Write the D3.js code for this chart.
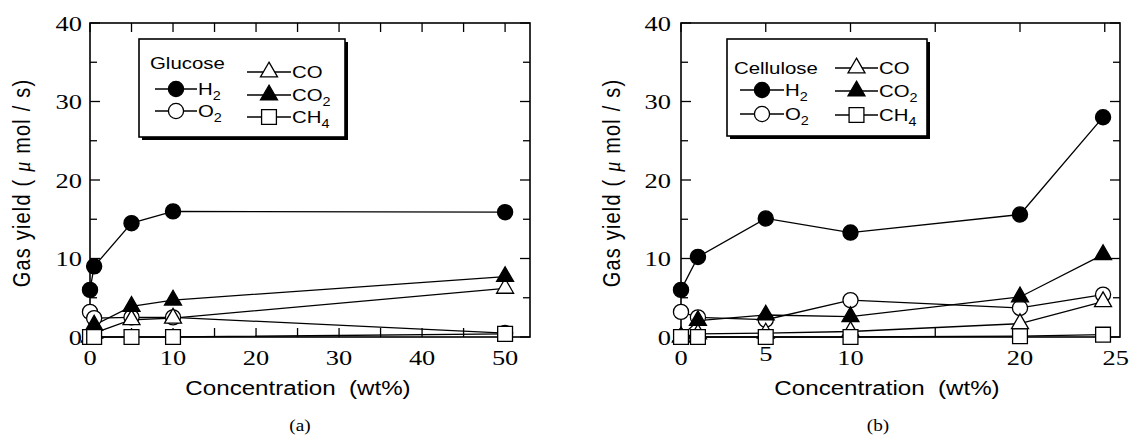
<!DOCTYPE html>
<html>
<head>
<meta charset="utf-8">
<script src="https://cdn.jsdelivr.net/npm/d3@7"></script>
<style>
body { margin: 0; background: #fff; }
svg { display: block; }
text { fill: #000; }
</style>
</head>
<body>
<div id="chart"></div>
<script>
// (a) glucose
const concA = [0, 0.5, 5, 10, 50]
const h2A  = [6.0, 9.0, 14.5, 16.0, 15.9]
const o2A  = [3.2, 2.4, 2.5, 2.5, 0.5]
const coA  = [0, 0.5, 2.2, 2.4, 6.2]
const co2A = [0, 1.5, 3.9, 4.7, 7.7]
const ch4A = [0, 0, 0, 0, 0.4]

// (b) cellulose
const concB = [0, 1, 5, 10, 20, 24.9]
const h2B  = [6.0, 10.2, 15.1, 13.3, 15.6, 28.0]
const o2B  = [3.2, 2.5, 2.2, 4.7, 3.7, 5.4]
const coB  = [0, 0.4, 0.5, 0.7, 1.7, 4.5]
const co2B = [0, 2.1, 2.8, 2.6, 5.1, 10.5]
const ch4B = [0, 0, 0, 0, 0.1, 0.3]

const yTicks = [0, 10, 20, 30, 40]
const xTicksA = [0, 10, 20, 30, 40, 50]
const xTicksB = [0, 5, 10, 20, 25]
const yMax = 40

const width = 1131, height = 435
const SX = 1.2   // the scanned figure is stretched sideways, so is its text

const svg = d3.select("#chart").append("svg")
    .attr("width", width).attr("height", height)

function stext(g, x, y, sx) {
    return g.append("text").attr("transform", "translate(" + x + "," + y + ") scale(" + sx + ",1)")
}

function addLabel(t, main, sub) {
    t.append("tspan").text(main)
    if (sub) t.append("tspan").attr("font-size", "12px").attr("dy", 5).text(sub)
}

const symCircle = d3.symbol().type(d3.symbolCircle).size(180)
const symTri = d3.symbol().type(d3.symbolTriangle).size(125)
const symSquare = d3.symbol().type(d3.symbolSquare).size(220)

function series(h2, o2, co, co2, ch4) {
    return [
        {name: "H", sub: "2", vals: h2, sym: symCircle, fill: "#000"},
        {name: "O", sub: "2", vals: o2, sym: symCircle, fill: "#fff"},
        {name: "CO", sub: "", vals: co, sym: symTri, fill: "#fff"},
        {name: "CO", sub: "2", vals: co2, sym: symTri, fill: "#000"},
        {name: "CH", sub: "4", vals: ch4, sym: symSquare, fill: "#fff"}
    ]
}

function drawPanel(p) {
    const x = d3.scaleLinear().domain([0, p.xMax]).range([p.left, p.right])
    const y = d3.scaleLinear().domain([0, yMax]).range([337, 23])
    const g = svg.append("g")

    // ticks pointing inward on all sides
    const xt = d3.range(0, p.xMax + 0.01, 5)
    const yt = d3.range(0, yMax + 0.01, 5)
    g.selectAll(".xtb").data(xt).join("line")
        .attr("x1", d => x(d)).attr("x2", d => x(d))
        .attr("y1", y(0)).attr("y2", y(0) - 9)
    g.selectAll(".xtt").data(xt).join("line").attr("class", "xtt")
        .attr("x1", d => x(d)).attr("x2", d => x(d))
        .attr("y1", y(yMax)).attr("y2", y(yMax) + 9)
    g.selectAll(".ytl").data(yt).join("line").attr("class", "ytl")
        .attr("x1", x(0)).attr("x2", d => x(0) + (d % 10 ? 7 : 10))
        .attr("y1", d => y(d)).attr("y2", d => y(d))
    g.selectAll(".ytr").data(yt).join("line").attr("class", "ytr")
        .attr("x1", x(p.xMax)).attr("x2", d => x(p.xMax) - (d % 10 ? 7 : 10))
        .attr("y1", d => y(d)).attr("y2", d => y(d))
    g.selectAll("line").attr("stroke", "#000").attr("stroke-width", 1.3)

    g.append("rect").attr("x", x(0)).attr("y", y(yMax))
        .attr("width", x(p.xMax) - x(0)).attr("height", y(0) - y(yMax))
        .attr("fill", "none").attr("stroke", "#000").attr("stroke-width", 1.6)

    // tick labels
    const tf = "'Liberation Serif', 'Times New Roman', serif"
    yTicks.forEach(d => {
        stext(g, x(0) - p.yLabGap, y(d) + 7.5, SX)
            .attr("font-family", tf).attr("font-size", "22px")
            .attr("text-anchor", "end").text(d)
    })
    p.xTicks.forEach(d => {
        const last = d == p.xTicks[p.xTicks.length - 1] && p.lastAtEdge
        stext(g, last ? width - 2 : x(d), 365 + (p.raise[d] || 0), SX)
            .attr("font-family", tf).attr("font-size", "22px")
            .attr("text-anchor", last ? "end" : "middle").text(d)
    })

    // axis titles
    const sf = "'Liberation Sans', Arial, sans-serif"
    stext(g, p.xTitleX, 395, 1.15)
        .attr("font-family", sf).attr("font-size", "21px")
        .attr("text-anchor", "middle").style("white-space", "pre")
        .text("Concentration  (wt%)")
    const yl = g.append("text")
        .attr("transform", "translate(" + p.yTitleX + ",183) rotate(-90) scale(1,1.15)")
        .attr("font-family", sf).attr("font-size", "20px")
        .attr("letter-spacing", "1.2px")
        .attr("text-anchor", "middle").style("white-space", "pre")
    yl.append("tspan").text("Gas yield ( ")
    yl.append("tspan").attr("font-family", tf).attr("font-style", "italic").text("\u03bc")
    yl.append("tspan").text(" mol / s)")

    stext(g, p.capX, 431, SX).attr("font-family", tf).attr("font-size", "16px")
        .attr("text-anchor", "middle").text(p.caption)

    // data: lines first, markers on top
    const line = d3.line().x(d => x(d[0])).y(d => y(d[1]))
    p.series.forEach(s => {
        g.append("path").datum(d3.zip(p.conc, s.vals))
            .attr("d", line).attr("fill", "none")
            .attr("stroke", "#000").attr("stroke-width", 1.3)
    })
    p.series.forEach(s => {
        g.append("g").selectAll("path").data(d3.zip(p.conc, s.vals)).join("path")
            .attr("transform", d => "translate(" + x(d[0]) + "," + y(d[1]) + ")")
            .attr("d", s.sym()).attr("fill", s.fill)
            .attr("stroke", "#000").attr("stroke-width", 1.3)
    })

    // legend box with drop shadow
    const L = p.legend
    g.append("rect").attr("x", L.x + 3).attr("y", L.y + 3)
        .attr("width", L.w).attr("height", L.h).attr("fill", "#000")
    g.append("rect").attr("x", L.x).attr("y", L.y)
        .attr("width", L.w).attr("height", L.h)
        .attr("fill", "#fff").attr("stroke", "#000").attr("stroke-width", 1.6)
    stext(g, L.titleX, L.titleY, SX).attr("font-family", sf)
        .attr("font-size", "17px").text(L.title)

    const cols = [[p.series[0], p.series[1]], [p.series[2], p.series[3], p.series[4]]]
    cols.forEach((col, ci) => {
        const c = L.cols[ci]
        col.forEach((s, ri) => {
            const ry = c.rows[ri]
            g.append("line").attr("x1", c.x1).attr("x2", c.x2)
                .attr("y1", ry).attr("y2", ry)
                .attr("stroke", "#000").attr("stroke-width", 1.3)
            g.append("path").attr("transform", "translate(" + ((c.x1 + c.x2) / 2) + "," + ry + ")")
                .attr("d", s.sym()).attr("fill", s.fill)
                .attr("stroke", "#000").attr("stroke-width", 1.3)
            const t = stext(g, c.x2 + 1, ry + 6, SX).attr("font-family", sf).attr("font-size", "17px")
            addLabel(t, s.name, s.sub)
        })
    })
}

drawPanel({
    conc: concA, series: series(h2A, o2A, coA, co2A, ch4A),
    xMax: 53, left: 90, right: 530, xTicks: xTicksA, raise: {}, lastAtEdge: false,
    yLabGap: 8, xTitleX: 298, yTitleX: 30, capX: 300, caption: "(a)",
    legend: {x: 139, y: 39, w: 206, h: 98, title: "Glucose", titleX: 150, titleY: 69,
        cols: [{x1: 155, x2: 197, rows: [89, 111]}, {x1: 247, x2: 291, rows: [72, 95, 117]}]}
})

drawPanel({
    conc: concB, series: series(h2B, o2B, coB, co2B, ch4B),
    xMax: 25.9, left: 681, right: 1120, xTicks: xTicksB, raise: {5: -4}, lastAtEdge: true,
    yLabGap: 10, xTitleX: 887, yTitleX: 620, capX: 878, caption: "(b)",
    legend: {x: 727, y: 39, w: 200, h: 97, title: "Cellulose", titleX: 734, titleY: 74,
        cols: [{x1: 740, x2: 784, rows: [90, 114]}, {x1: 835, x2: 878, rows: [68, 91, 115]}]}
})
</script>
</body>
</html>
